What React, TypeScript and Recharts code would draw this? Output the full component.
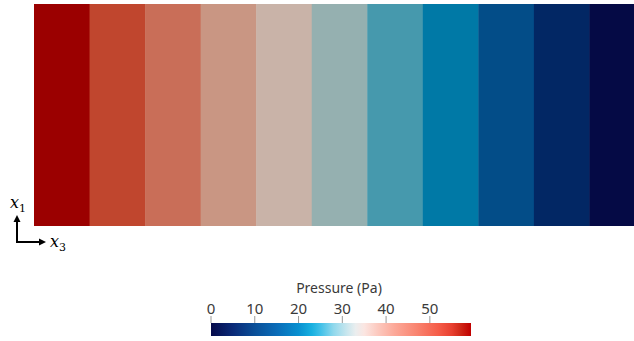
import { BarChart, Bar, Cell, XAxis, YAxis, ComposedChart, ReferenceArea } from "recharts";

// pressure of each vertical band, left to right (Pa)
const BAND_NAMES = ["c1", "c2", "c3", "c4", "c5", "c6", "c7", "c8", "c9", "c10", "c11"];
const BAND_PRESSURE = [56.7, 51.3, 45.9, 40.5, 35.1, 29.7, 24.3, 18.9, 13.5, 8.1, 2.7];
const BAND_COLORS = [
  "#9b0000", "#c0462e", "#c96e58", "#c99683", "#c9b3a8", "#95b0b0",
  "#4699ad", "#0079a6", "#034d88", "#022764", "#050a45",
];

// colour legend
const LEGEND_TICKS = [0, 10, 20, 30, 40, 50];
const LEGEND_RANGE = [0, 59.4];
const LEGEND_STOPS = [
  { at: 0, color: "#050a4a" },
  { at: 5, color: "#0a2a78" },
  { at: 10, color: "#0a4f98" },
  { at: 15, color: "#0a6cb8" },
  { at: 20, color: "#0890d0" },
  { at: 23, color: "#18b0e0" },
  { at: 25, color: "#40c0e8" },
  { at: 28, color: "#90d8ec" },
  { at: 31, color: "#c8e6ee" },
  { at: 33, color: "#eaeeef" },
  { at: 35, color: "#fbe6e2" },
  { at: 38, color: "#fccac0" },
  { at: 42, color: "#fca898" },
  { at: 47, color: "#f98470" },
  { at: 52, color: "#f55c48" },
  { at: 55, color: "#e84030" },
  { at: 57, color: "#d02818" },
  { at: 59.4, color: "#c00000" },
];

const bandData = BAND_NAMES.map((name, i) => ({ name, pressure: BAND_PRESSURE[i], span: 1 }));
const legendData = LEGEND_RANGE.map((p) => ({ p, v: 1 }));

const FONT = "'Noto Sans', sans-serif";

const App = () => {
  return (
    <div style={{ position: "absolute", left: 0, top: 0, width: 634, height: 341, overflow: "hidden", background: "#fff" }}>
      {/* bands */}
      <div style={{ position: "absolute", left: 34, top: 4 }}>
        <BarChart width={611} height={222} data={bandData} margin={{ top: 0, right: 0, bottom: 0, left: 0 }} barCategoryGap={0}>
          <XAxis dataKey="name" hide />
          <YAxis hide domain={[0, 1]} />
          <Bar dataKey="span" isAnimationActive={false}>
            {bandData.map((_, i) => (
              <Cell key={`band-${i}`} fill={BAND_COLORS[i]} />
            ))}
          </Bar>
        </BarChart>
      </div>

      {/* axes triad (also holds the legend gradient) */}
      <svg style={{ position: "absolute", left: 0, top: 190 }} width={80} height={70}>
        <defs>
          <linearGradient id="pgrad" x1="0" y1="0" x2="1" y2="0">
            {LEGEND_STOPS.map((s) => (
              <stop key={s.at} offset={`${(s.at / LEGEND_RANGE[1]) * 100}%`} stopColor={s.color} />
            ))}
          </linearGradient>
        </defs>
        <line x1={17} y1={52} x2={17} y2={30} stroke="#000" strokeWidth={2} />
        <polygon points="17,25 13.5,32 20.5,32" fill="#000" />
        <line x1={16} y1={52} x2={40} y2={52} stroke="#000" strokeWidth={2} />
        <polygon points="46,52 39,48.5 39,55.5" fill="#000" />
        <text x={10} y={18} fontFamily="'DejaVu Serif', serif" fontStyle="italic" fontSize={16} fill="#000">
          x<tspan fontSize={11} dy={4} fontStyle="normal">1</tspan>
        </text>
        <text x={50} y={57} fontFamily="'DejaVu Serif', serif" fontStyle="italic" fontSize={16} fill="#000">
          x<tspan fontSize={11} dy={4} fontStyle="normal">3</tspan>
        </text>
      </svg>

      {/* colour legend */}
      <div style={{ position: "absolute", left: 279, top: 278, width: 120, textAlign: "center", fontFamily: FONT, fontSize: 14, color: "#3a3a3a" }}>
        Pressure (Pa)
      </div>
      <div style={{ position: "absolute", left: 191, top: 280 }}>
        <ComposedChart width={300} height={57} data={legendData} margin={{ top: 0, right: 20, bottom: 1, left: 20 }}>
          <XAxis
            dataKey="p"
            type="number"
            orientation="top"
            domain={LEGEND_RANGE}
            ticks={LEGEND_TICKS}
            height={43}
            axisLine={false}
            tickSize={7}
            tickLine={{ stroke: "#999" }}
            tick={{ fill: "#3a3a3a", fontSize: 15, fontFamily: FONT }}
          />
          <YAxis hide dataKey="v" domain={[0, 1]} />
          <ReferenceArea x1={0} x2={59.4} fill="url(#pgrad)" fillOpacity={1} stroke="none" />
        </ComposedChart>
      </div>
    </div>
  );
};

export default App;
